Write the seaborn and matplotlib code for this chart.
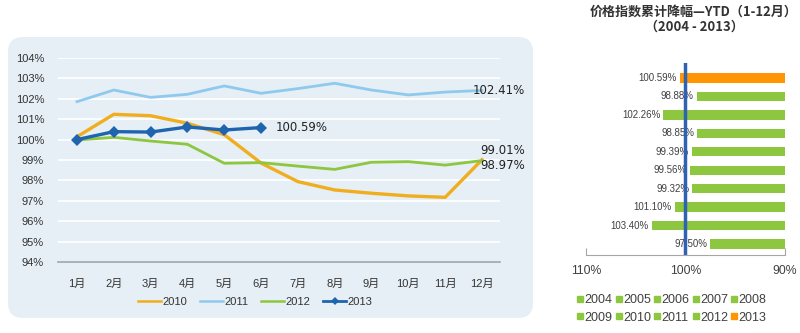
import matplotlib
matplotlib.use('Agg')
import matplotlib.pyplot as plt
import seaborn as sns
import pandas as pd
import numpy as np
from matplotlib.patches import FancyBboxPatch
from matplotlib.lines import Line2D

# ---------------- data ----------------
months = ['1月', '2月', '3月', '4月', '5月', '6月', '7月', '8月', '9月', '10月', '11月', '12月']
line_years = ['2010', '2011', '2012', '2013']
y2010 = [100.14, 101.24, 101.17, 100.80, 100.24, 98.85, 97.94, 97.53, 97.37, 97.24, 97.17, 99.01]
y2011 = [101.86, 102.43, 102.07, 102.22, 102.63, 102.27, 102.50, 102.76, 102.43, 102.19, 102.33, 102.41]
y2012 = [99.98, 100.11, 99.93, 99.77, 98.84, 98.87, 98.70, 98.54, 98.89, 98.92, 98.75, 98.97]
y2013 = [100.00, 100.39, 100.37, 100.62, 100.47, 100.59]
end_labels = {'2011': '102.41%', '2013': '100.59%', '2010': '99.01%', '2012': '98.97%'}

bar_years = ['2013', '2012', '2011', '2010', '2009', '2008', '2007', '2006', '2005', '2004']
bar_values = [100.59, 98.88, 102.26, 98.85, 99.39, 99.56, 99.32, 101.10, 103.40, 97.50]
bar_labels = ['100.59%', '98.88%', '102.26%', '98.85%', '99.39%', '99.56%', '99.32%', '101.10%', '103.40%', '97.50%']
bar_ticks = [110, 100, 90]
bar_ticklabels = ['110%', '100%', '90%']

line_colors = {'2010': '#F0AE1E', '2011': '#90C9EE', '2012': '#8DC63F', '2013': '#1E64AE'}
line_widths = {'2010': 2.4, '2011': 2.0, '2012': 2.0, '2013': 2.4}
green = '#8DC63F'
orange = '#FF9500'

plt.rcParams['font.family'] = ['Liberation Sans', 'Noto Sans CJK SC', 'DejaVu Sans']

fig = plt.figure(figsize=(8, 3.33), dpi=100)

# rounded background panel
bg = FancyBboxPatch((0.08, 0.15), 5.25, 2.81,
                    boxstyle='round,pad=0,rounding_size=0.15',
                    transform=fig.dpi_scale_trans, facecolor='#E5EFF5',
                    edgecolor='none', zorder=0)
fig.add_artist(bg)

# ---------------- left line chart ----------------
ax1 = fig.add_axes([58 / 800, 71 / 333, 442 / 800, 204 / 333])
ax1.set_facecolor('none')
series = {'2010': y2010, '2011': y2011, '2012': y2012, '2013': y2013}
for yr in line_years:
    vals = series[yr]
    df = pd.DataFrame({'m': np.arange(len(vals)), 'v': vals})
    if yr == '2013':
        sns.lineplot(data=df, x='m', y='v', ax=ax1, color=line_colors[yr],
                     lw=line_widths[yr], marker='D', markersize=6,
                     markeredgewidth=0, zorder=5)
    else:
        sns.lineplot(data=df, x='m', y='v', ax=ax1, color=line_colors[yr],
                     lw=line_widths[yr], zorder=3)

ax1.set_xlim(-0.516, 11.49)
ax1.set_ylim(94, 104)
ax1.set_yticks(range(94, 105))
ax1.set_yticklabels([f'{v}%' for v in range(94, 105)], fontsize=8, color='#333333')
ax1.set_xticks(np.arange(12))
ax1.set_xticklabels(months, fontsize=8, color='#333333')
ax1.set_xlabel('')
ax1.set_ylabel('')
for s in ['top', 'right', 'left']:
    ax1.spines[s].set_visible(False)
ax1.spines['bottom'].set_color('#9AA6AE')
ax1.spines['bottom'].set_linewidth(1.2)
ax1.tick_params(axis='both', length=0)
ax1.tick_params(axis='y', pad=10)
ax1.tick_params(axis='x', pad=12)
ax1.yaxis.grid(True, color='white', lw=1.2)
ax1.set_axisbelow(True)

ax1.text(5.4, y2013[-1], end_labels['2013'], ha='left', va='center',
         fontsize=8.5, color='#222222', family='DejaVu Sans')
ax1.text(10.75, y2011[-1], end_labels['2011'], ha='left', va='center',
         fontsize=8.5, color='#222222', family='DejaVu Sans')
ax1.text(10.95, 99.45, end_labels['2010'], ha='left', va='center',
         fontsize=8.5, color='#222222', family='DejaVu Sans')
ax1.text(10.95, 98.75, end_labels['2012'], ha='left', va='center',
         fontsize=8.5, color='#222222', family='DejaVu Sans')

handles = []
for yr in line_years:
    if yr == '2013':
        handles.append(Line2D([], [], color=line_colors[yr], lw=2.0,
                              marker='D', markersize=4, markeredgewidth=0))
    else:
        handles.append(Line2D([], [], color=line_colors[yr], lw=1.8))
fig.legend(handles, line_years, loc='center', bbox_to_anchor=(255 / 800, 1 - 302 / 333),
           ncol=4, frameon=False, fontsize=8, handlelength=2.1, handletextpad=0.1,
           columnspacing=1.15, labelcolor='#333333')

# ---------------- right bar chart ----------------
ax2 = fig.add_axes([586 / 800, 78 / 333, 199 / 800, 192 / 333])
bar_colors = [orange] + [green] * 9
sns.barplot(x=bar_values, y=bar_years, hue=bar_years, palette=bar_colors,
            legend=False, orient='h', width=0.5, ax=ax2, saturation=1)
ax2.set_xlim(110, 90)
ax2.set_ylim(9.6, -0.815)
ax2.axvline(100, color='#2F62B0', lw=2.5, zorder=4)
for i, (v, lbl) in enumerate(zip(bar_values, bar_labels)):
    ax2.annotate(lbl, xy=(v, i), xytext=(-2, 0), textcoords='offset points',
                 ha='right', va='center', fontsize=7, color='#404040')
for s in ['top', 'right', 'left']:
    ax2.spines[s].set_visible(False)
ax2.spines['bottom'].set_color('#A6A6A6')
ax2.set_yticks([])
ax2.set_xticks(bar_ticks)
ax2.set_xticklabels(bar_ticklabels, fontsize=8.8, color='#404040')
ax2.tick_params(axis='x', direction='in', length=5, color='#A6A6A6', pad=7)
ax2.set_xlabel('')
ax2.set_ylabel('')
ax2.set_facecolor('none')

fig.text(694 / 800, 1 - 12 / 333, '价格指数累计降幅—YTD（1-12月）', ha='center', va='center',
         fontsize=9.4, fontweight='bold', color='#333333',
         family=['Noto Sans CJK SC', 'DejaVu Sans'])
fig.text(694 / 800, 1 - 27 / 333, '（2004 - 2013）', ha='center', va='center',
         fontsize=9.4, fontweight='bold', color='#333333',
         family=['Noto Sans CJK SC', 'DejaVu Sans'])

# legend rows: 2004-2008 on top, 2009-2013 below (matplotlib fills by column)
leg_years = sorted(bar_years)
leg_order = []
for c in range(5):
    leg_order += [leg_years[c], leg_years[c + 5]]
leg_handles = [Line2D([], [], marker='s', ls='none', markersize=5,
                      color=(orange if y == '2013' else green)) for y in leg_order]
fig.legend(leg_handles, leg_order, loc='center', bbox_to_anchor=(672 / 800, 1 - 309 / 333),
           ncol=5, frameon=False, fontsize=9, handlelength=0.4, handletextpad=0.15,
           columnspacing=0.3, labelspacing=0.45, labelcolor='#404040')

fig.savefig('out.png', dpi=100)
